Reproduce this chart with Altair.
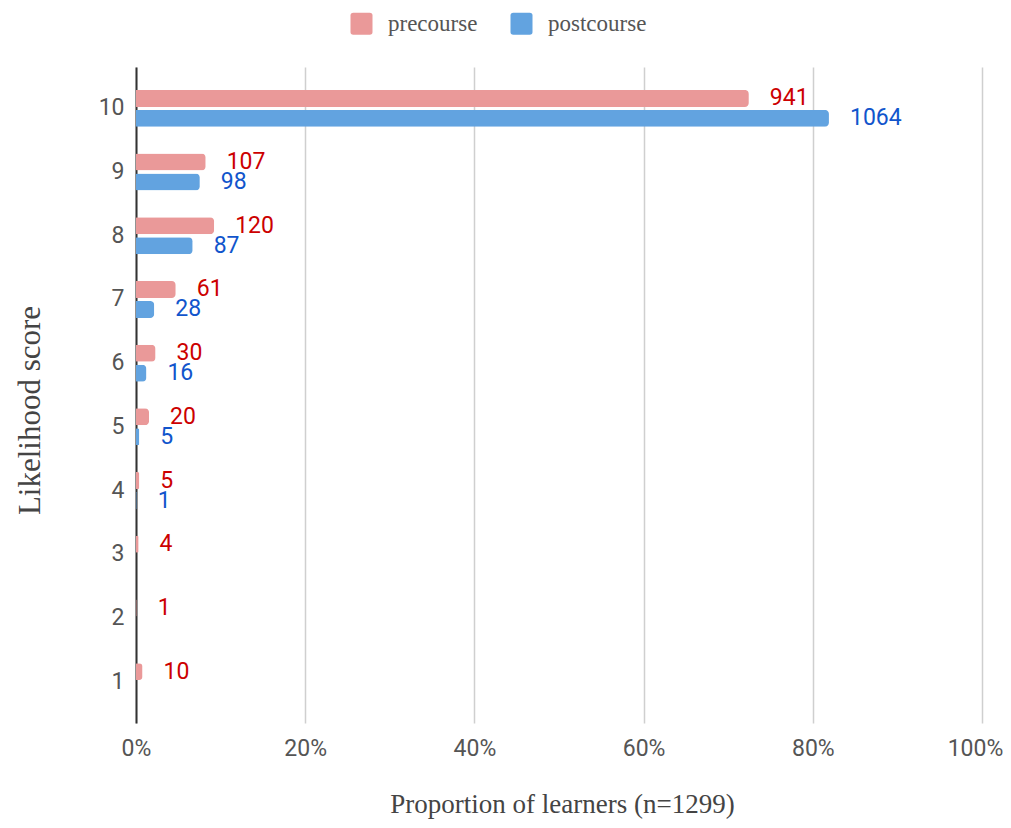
import altair as alt
import pandas as pd

scores = ["10", "9", "8", "7", "6", "5", "4", "3", "2", "1"]
precourse = [941, 107, 120, 61, 30, 20, 5, 4, 1, 10]
postcourse = [1064, 98, 87, 28, 16, 5, 1, 0, 0, 0]
series = ["precourse", "postcourse"]
n_total = 1299
x_ticks = [0, 0.2, 0.4, 0.6, 0.8, 1.0]

rows = []
for s, a, b in zip(scores, precourse, postcourse):
    rows.append({"score": s, "series": "precourse", "count": a, "prop": a / n_total})
    rows.append({"score": s, "series": "postcourse", "count": b, "prop": b / n_total})
df = pd.DataFrame(rows)

SERIF = "Liberation Serif"
SANS = "Roboto"

rounded_square = ("M -0.75 -1 L 0.75 -1 Q 1 -1 1 -0.75 L 1 0.75 Q 1 1 0.75 1 "
                  "L -0.75 1 Q -1 1 -1 0.75 L -1 -0.75 Q -1 -1 -0.75 -1 Z")

y_enc = alt.Y(
    "score:N",
    sort=scores,
    scale=alt.Scale(paddingInner=0.42, paddingOuter=0.36, round=False),
    axis=alt.Axis(
        title="Likelihood score",
        titleFont=SERIF, titleFontSize=31, titleFontWeight="normal",
        titleColor="#444", titlePadding=52, titleY=343,
        labelFont=SANS, labelFontSize=23, labelColor="#555", labelPadding=12,
        ticks=False, domain=True, domainColor="#333", domainWidth=2,
        grid=False,
    ),
)
yoff = alt.YOffset("series:N", sort=series, scale=alt.Scale(paddingInner=0.15))
x_enc = alt.X(
    "prop:Q",
    scale=alt.Scale(domain=[0, 1], nice=False),
    axis=alt.Axis(
        title="Proportion of learners (n=1299)",
        values=x_ticks, format=".0%", labelFlush=False,
        labelOffset=alt.expr("datum.value == 1 ? -7 : 0"),
        titleFont=SERIF, titleFontSize=27, titleFontWeight="normal",
        titleColor="#444", titlePadding=31, titleX=426,
        labelFont=SANS, labelFontSize=23, labelColor="#555", labelPadding=14,
        ticks=False, domain=False,
        grid=True, gridColor="#cfcfcf", gridWidth=1.5,
    ),
)

base = alt.Chart(df)

bars = base.mark_bar(cornerRadiusEnd=4).encode(
    x=x_enc,
    y=y_enc,
    yOffset=yoff,
    color=alt.Color(
        "series:N",
        sort=series,
        scale=alt.Scale(domain=series, range=["#ea9999", "#62a3e0"]),
        legend=alt.Legend(
            title=None, orient="none", direction="horizontal",
            legendX=214, legendY=-55,
            symbolType=rounded_square, symbolSize=484,
            symbolStrokeWidth=0, symbolOpacity=1,
            labelFont=SERIF, labelFontSize=23, labelColor="#555",
            labelOffset=15, columnPadding=32,
        ),
    ),
)

labels = base.transform_filter("datum.count > 0").mark_text(
    align="left", baseline="middle", dx=21, font=SANS, fontSize=23
).encode(
    x="prop:Q",
    y=alt.Y("score:N", sort=scores),
    yOffset=alt.YOffset("series:N", sort=series),
    text="count:Q",
    color=alt.Color(
        "series:N",
        scale=alt.Scale(domain=series, range=["#cc0000", "#1155cc"]),
        legend=None,
    ),
)

chart = alt.layer(bars, labels).resolve_scale(color="independent").properties(
    width=846,
    height=656,
    autosize=alt.AutoSizeParams(type="none"),
    padding={"left": 128, "top": 59, "right": 21, "bottom": 97},
).configure_view(stroke=None)

chart.save("out.html", embed_options={"renderer": "svg", "actions": False})
